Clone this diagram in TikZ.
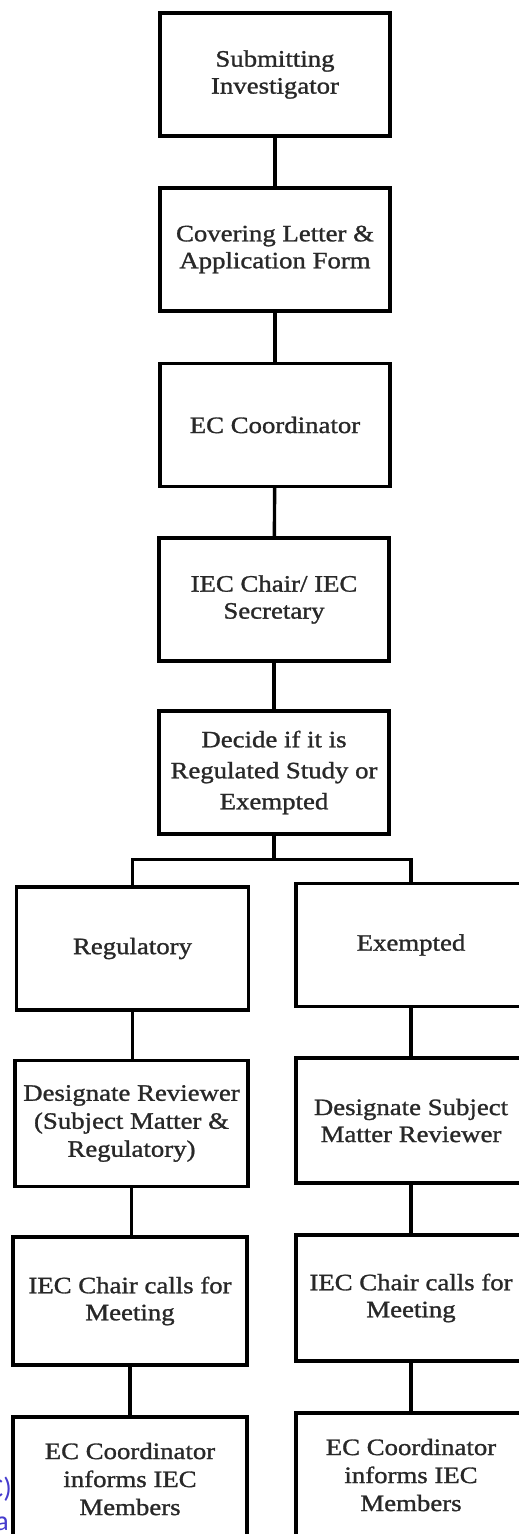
\documentclass[tikz,border=0pt]{standalone}
\usepackage{fontspec}
\setmainfont{Liberation Serif}[FakeStretch=1.14,FakeBold=1.2]
\newfontfamily\linkfont{Carlito}
\definecolor{linkblue}{RGB}{70,60,205}
\definecolor{inkgray}{RGB}{40,40,40}
\begin{document}
\begin{tikzpicture}[x=1pt,y=-1pt,
  flowbox/.style={draw=black, line width=3.4pt, minimum width=230pt, minimum height=123pt,
    inner sep=0pt, align=center, text=inkgray, font=\fontsize{23.5}{27}\selectfont},
  link/.style={line width=3.4pt, draw=black}]
\useasboundingbox (0,0) rectangle (519,1534);
\clip (0,0) rectangle (519,1534);
% main column
\node[flowbox] (b1) at (275,74.5) {Submitting\\Investigator};
\node[flowbox] (b2) at (275,249.5) {Covering Letter \&\\Application Form};
\node[flowbox] (b3) at (275,425) {EC Coordinator};
\node[flowbox] (b4) at (274,599.5) {IEC Chair/ IEC\\Secretary};
\node[flowbox, font=\fontsize{23.5}{31}\selectfont] (b5) at (274,772.5) {Decide if it is\\Regulated Study or\\Exempted};
% left branch
\node[flowbox, minimum width=232pt] (reg) at (132.5,948.5) {Regulatory};
\node[flowbox, minimum width=233pt, minimum height=126pt, font=\fontsize{23.5}{28}\selectfont] (dr) at (131.5,1123.5) {Designate Reviewer\\(Subject Matter \&\\Regulatory)};
\node[flowbox, minimum width=234pt, minimum height=128pt] (cl) at (130,1301) {IEC Chair calls for\\Meeting};
\node[flowbox, minimum width=234pt, minimum height=124pt, font=\fontsize{23.5}{28}\selectfont] (el) at (130,1479) {EC Coordinator\\informs IEC\\Members};
% right branch
\node[flowbox] (exm) at (411,945) {Exempted};
\node[flowbox, minimum height=125pt] (ds) at (411,1120.5) {Designate Subject\\Matter Reviewer};
\node[flowbox, minimum height=126pt] (cr) at (411,1298) {IEC Chair calls for\\Meeting};
\node[flowbox, minimum height=124pt, font=\fontsize{23.5}{28}\selectfont] (er) at (411,1475) {EC Coordinator\\informs IEC\\Members};
% connectors
\draw[link] (b1) -- (b2);
\draw[link] (b2) -- (b3);
\draw[link] (b3) -- (b4);
\draw[link] (b4) -- (b5);
\coordinate (fork) at ([yshift=-24pt]b5.south);
\draw[link] (b5.south) -- (fork);
\draw[link] (fork) -| (reg.north);
\draw[link] (fork) -| (exm.north);
\draw[link] (reg.south) -- (reg.south |- dr.north);
\draw[link] (dr.south) -- (dr.south |- cl.north);
\draw[link] (cl.south) -- (cl.south |- el.north);
\draw[link] (exm.south) -- (exm.south |- ds.north);
\draw[link] (ds.south) -- (ds.south |- cr.north);
\draw[link] (cr.south) -- (cr.south |- er.north);
% cut-off blue text at left margin
\node[anchor=east, text=linkblue, font=\linkfont\fontsize{28}{28}\selectfont, inner sep=0pt] (t1) at (12,1489) {C)};
\node[anchor=east, text=linkblue, font=\linkfont\fontsize{28}{28}\selectfont, inner sep=0pt] (t2) at (9,1524) {a};
\end{tikzpicture}
\end{document}
